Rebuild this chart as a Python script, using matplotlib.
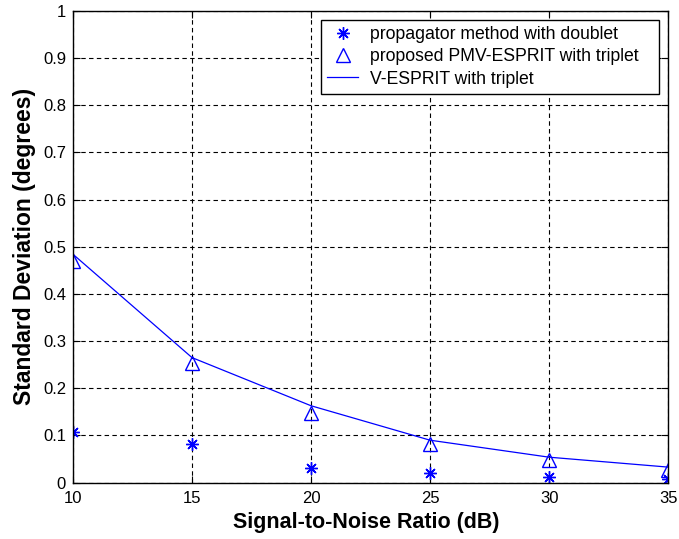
import matplotlib
matplotlib.use('Agg')
import matplotlib.pyplot as plt

# 数据
snr = [10, 15, 20, 25, 30, 35]
std_doublet = [0.107, 0.081, 0.032, 0.020, 0.011, 0.008]
std_pmv = [0.470, 0.254, 0.148, 0.082, 0.047, 0.027]
std_vesprit = [0.484, 0.265, 0.163, 0.090, 0.054, 0.033]

plt.rcParams['font.family'] = ['Liberation Sans', 'DejaVu Sans']

fig = plt.figure(figsize=(6.79, 5.39), dpi=100)
ax = fig.add_axes([0.1075, 0.1045, 0.8765, 0.8755])

ax.plot(snr, std_doublet, linestyle='none', marker=(8, 2, 0), color='b',
        markersize=9, markeredgewidth=1.0,
        label='propagator method with doublet')
ax.plot(snr, std_pmv, linestyle='none', marker='^', color='b',
        markerfacecolor='none', markersize=9.5, markeredgewidth=1.0,
        label='proposed PMV-ESPRIT with triplet')
ax.plot(snr, std_vesprit, color='b', linewidth=0.9,
        label='V-ESPRIT with triplet')

ax.set_xlim(10, 35)
ax.set_ylim(0, 1)
ax.set_xticks(range(10, 36, 5))
ax.set_yticks([i / 10 for i in range(11)])
ax.set_yticklabels(['0'] + ['%.1f' % (i / 10) for i in range(1, 10)] + ['1'])
ax.tick_params(direction='in', labelsize=12, length=5, top=True, right=True)
ax.tick_params(axis='x', pad=6)
ax.tick_params(axis='y', pad=5)
ax.grid(True, color='black', linestyle=(0, (4, 3)), linewidth=0.8)
for s in ax.spines.values():
    s.set_linewidth(1.0)

ax.set_xlabel('Signal-to-Noise Ratio (dB)', fontsize=15.5, fontweight='bold')
ax.set_ylabel('Standard Deviation (degrees)', fontsize=16.5, fontweight='bold')
ax.xaxis.set_label_coords(0.493, -0.062)
ax.yaxis.set_label_coords(-0.062, 0.5)

# 图例框宽度固定
leg = ax.legend(loc='upper right', fontsize=12.7, fancybox=False,
                framealpha=1, edgecolor='black', mode='expand',
                bbox_to_anchor=(0.416, 0.5, 0.569, 0.481), borderaxespad=0,
                handlelength=1.8, handletextpad=0.65, labelspacing=0.3,
                borderpad=0.35)
leg.get_frame().set_linewidth(1.0)

plt.savefig('out.png', dpi=100)
